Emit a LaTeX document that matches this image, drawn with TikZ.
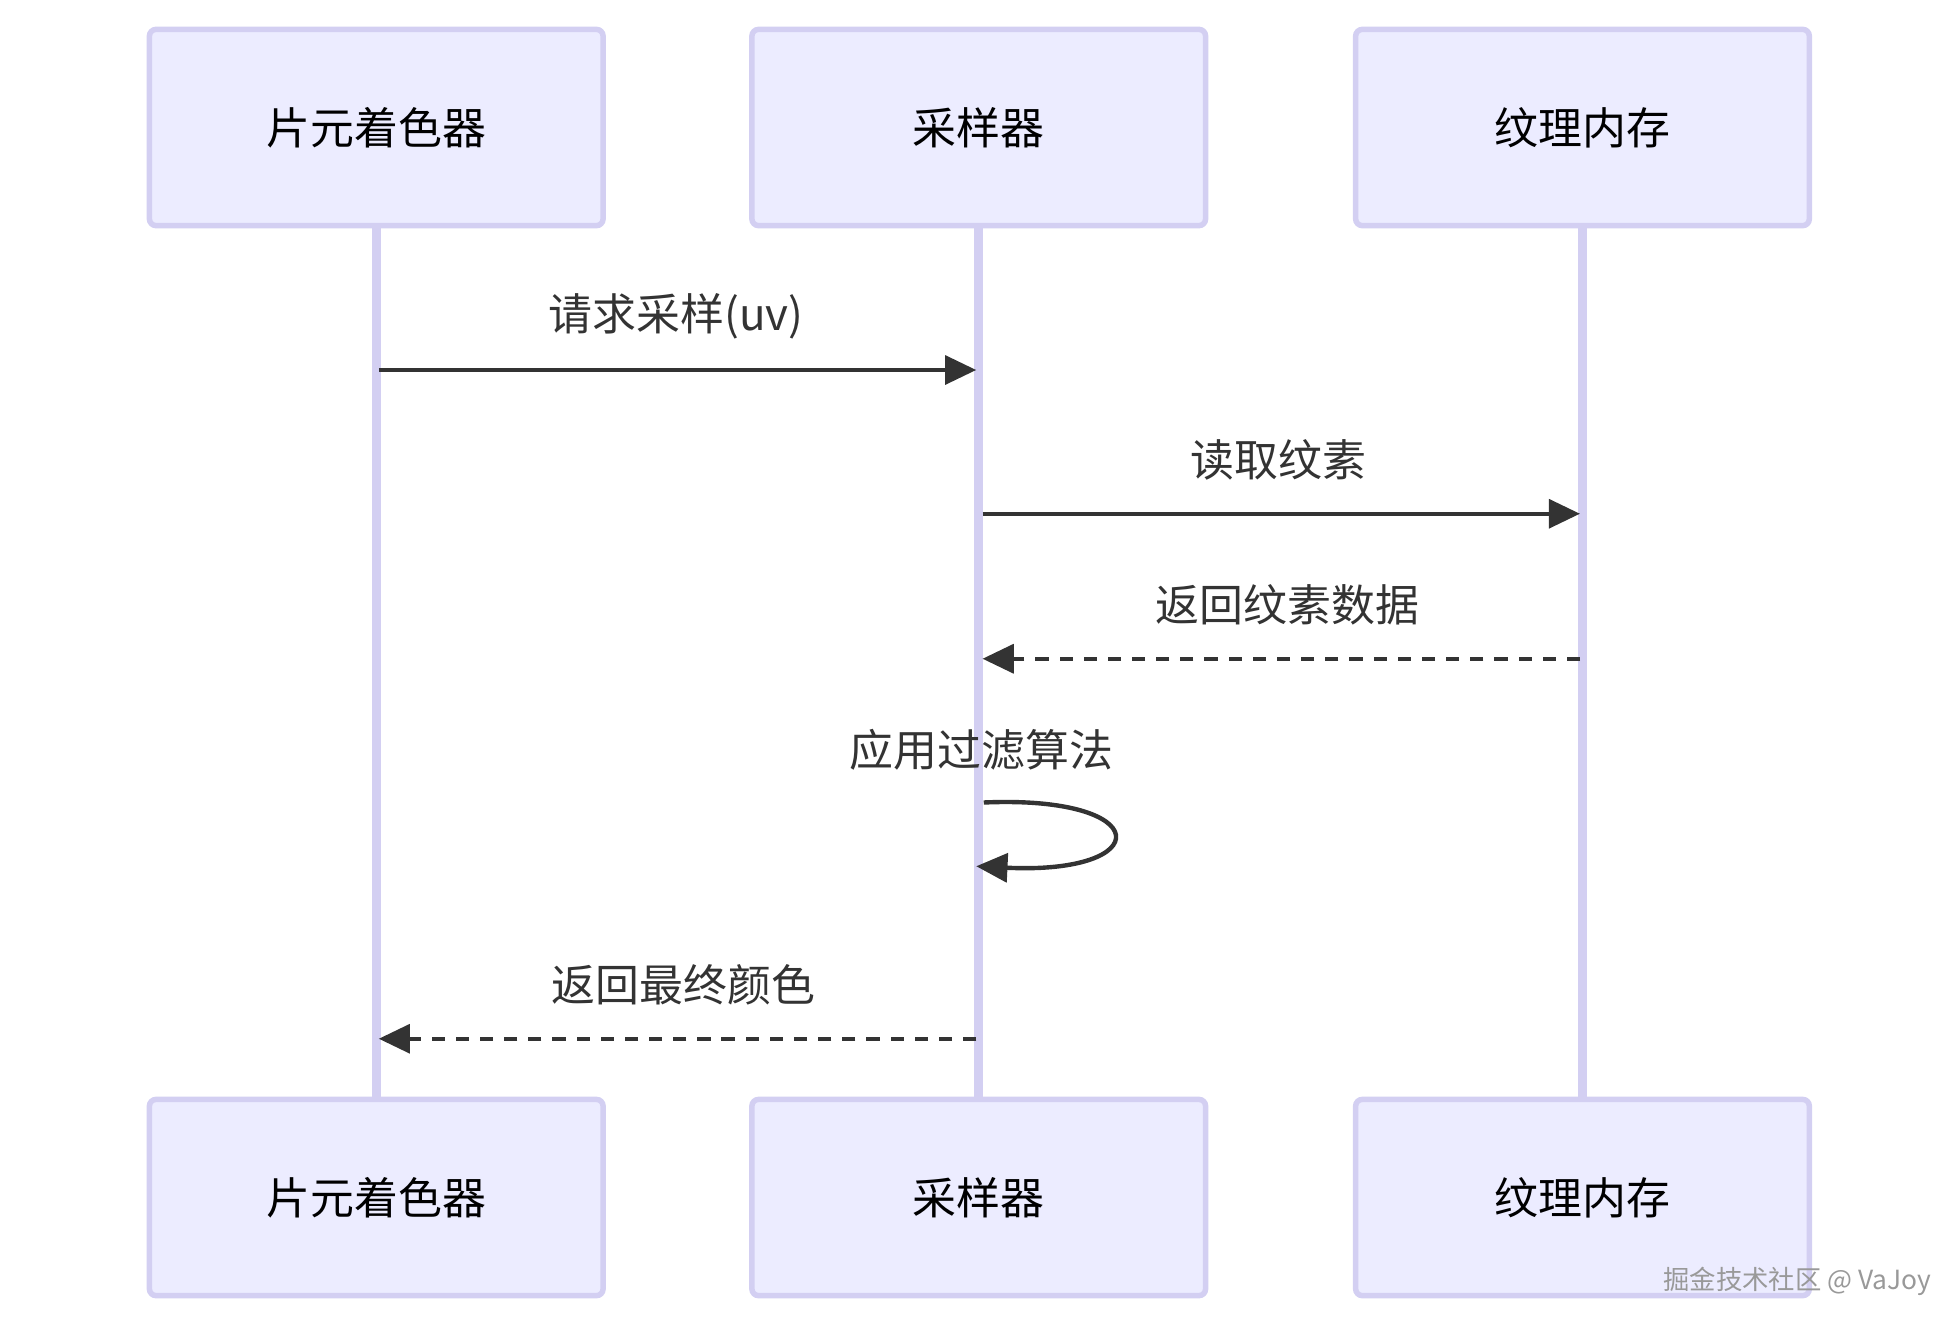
\documentclass[tikz,border=0pt]{standalone}
\usepackage{fontspec}
\setmainfont{Noto Sans CJK SC}
\usetikzlibrary{arrows.meta}
\definecolor{actfill}{HTML}{ECECFF}
\definecolor{actline}{HTML}{D3CFF2}
\definecolor{msgline}{HTML}{333333}
\begin{document}
\begin{tikzpicture}[x=0.02cm,y=-0.02cm]
    \tikzset{actor/.style= {draw=actline,
                            fill=actfill,
                            line width=2.5pt,
                            rounded corners=3pt,
                            minimum width=7.26cm,
                            minimum height=3.14cm,
                            font=\fontsize{20}{24}\selectfont},
             life/.style=  {draw=actline, line width=4pt},
             msg/.style=   {draw=msgline, line width=2pt,
                            -{Triangle[length=0.5cm,width=0.46cm]}},
             reply/.style= {msg, dash pattern=on 6pt off 5pt},
             lbl/.style=   {text=msgline, font=\fontsize{20}{24}\selectfont},
            }
    \useasboundingbox (0,0) rectangle (1560,1058);
    \path
    (301,102)  node[actor](ft) {片元着色器}
    (783,102)  node[actor](st) {采样器}
    (1266,102) node[actor](tt) {纹理内存}
    (301,958)  node[actor](fb) {片元着色器}
    (783,958)  node[actor](sb) {采样器}
    (1266,958) node[actor](tb) {纹理内存}
    ;
    \draw[life] (ft) -- (fb);
    \draw[life] (st) -- (sb);
    \draw[life] (tt) -- (tb);
    % messages
    \coordinate (f1) at (303,296);  \coordinate (s1) at (781,296);
    \coordinate (s2) at (786,411);  \coordinate (t2) at (1264,411);
    \coordinate (t3) at (1264,527); \coordinate (s3) at (786,527);
    \coordinate (s4) at (787,642);  \coordinate (s5) at (781,693);
    \coordinate (s6) at (781,831);  \coordinate (f6) at (303,831);
    \draw[msg]   (f1) -- (s1);
    \draw[msg]   (s2) -- (t2);
    \draw[reply] (t3) -- (s3);
    \draw[msg]   (s4) .. controls (925,636) and (925,700) .. (s5);
    \draw[reply] (s6) -- (f6);
    \path
    (541,253)  node[lbl] {请求采样(uv)}
    (1023,368) node[lbl] {读取纹素}
    (1030,484) node[lbl] {返回纹素数据}
    (785,600)  node[lbl] {应用过滤算法}
    (547,788)  node[lbl] {返回最终颜色}
    (1438,1025) node[text=gray!80, font=\fontsize{12}{14}\selectfont] {掘金技术社区 @ VaJoy}
    ;
\end{tikzpicture}
\end{document}
